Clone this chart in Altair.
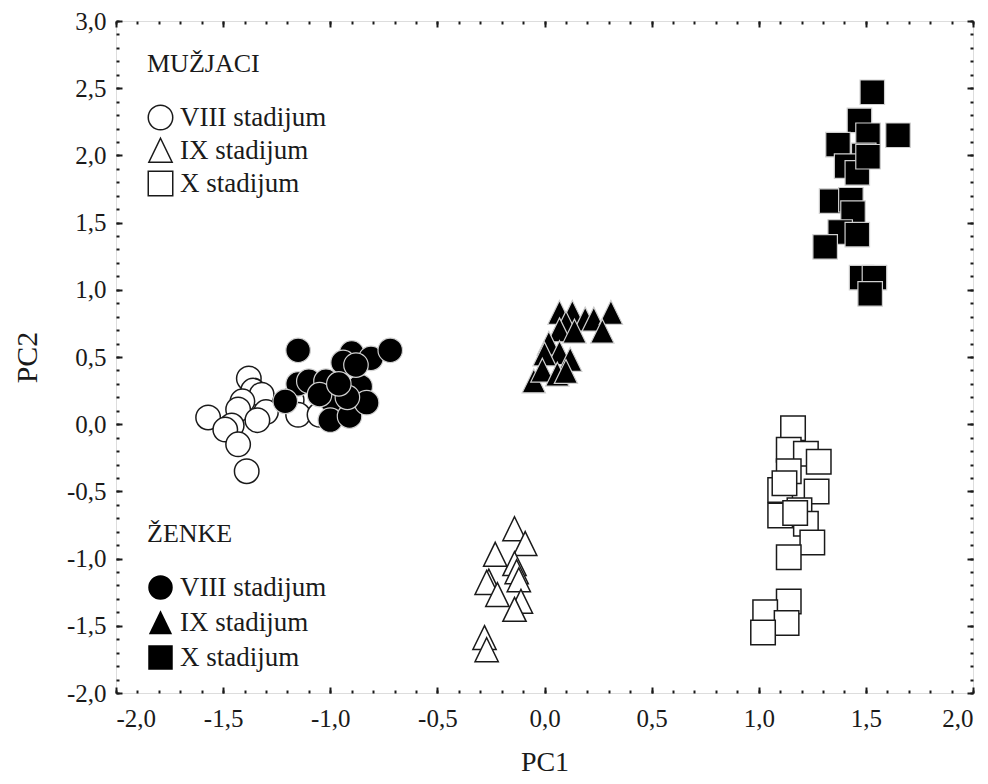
import altair as alt
import pandas as pd

# ---- data ----
stages = ["VIII stadijum", "IX stadijum", "X stadijum"]

m8_x = [-1.57, -1.38, -1.36, -1.32, -1.41, -1.43, -1.30, -1.46, -1.49, -1.43, -1.39, -1.34, -1.18, -1.15, -1.05]
m8_y = [0.05, 0.34, 0.25, 0.22, 0.17, 0.11, 0.09, -0.01, -0.04, -0.15, -0.35, 0.03, 0.18, 0.07, 0.07]

f8_x = [-1.15, -1.15, -1.10, -1.02, -0.99, -1.00, -0.91, -0.86, -0.83, -0.92, -0.90, -0.94, -0.81, -0.72, -1.21, -1.05, -0.96, -0.88]
f8_y = [0.55, 0.30, 0.32, 0.32, 0.17, 0.03, 0.06, 0.28, 0.16, 0.20, 0.53, 0.46, 0.49, 0.55, 0.17, 0.22, 0.30, 0.44]

m9_x = [-0.14, -0.09, -0.23, -0.26, -0.27, -0.14, -0.13, -0.12, -0.22, -0.11, -0.14, -0.28, -0.27]
m9_y = [-0.78, -0.89, -0.97, -1.17, -1.18, -1.04, -1.10, -1.16, -1.27, -1.32, -1.38, -1.59, -1.68]

f9_x = [0.07, 0.13, 0.19, 0.23, 0.31, 0.10, 0.07, 0.14, 0.27, 0.02, 0.07, 0.00, 0.12, -0.05, -0.01, 0.06, 0.10]
f9_y = [0.83, 0.83, 0.78, 0.78, 0.83, 0.75, 0.70, 0.69, 0.69, 0.60, 0.53, 0.52, 0.48, 0.32, 0.40, 0.37, 0.39]

m10_x = [1.16, 1.14, 1.22, 1.28, 1.14, 1.10, 1.27, 1.10, 1.19, 1.22, 1.17, 1.25, 1.14, 1.14, 1.03, 1.13, 1.02, 1.12]
m10_y = [-0.03, -0.19, -0.22, -0.28, -0.35, -0.49, -0.50, -0.68, -0.64, -0.74, -0.66, -0.88, -0.99, -1.32, -1.40, -1.48, -1.55, -0.44]

f10_x = [1.53, 1.47, 1.51, 1.65, 1.37, 1.49, 1.41, 1.46, 1.34, 1.43, 1.44, 1.38, 1.46, 1.31, 1.48, 1.54, 1.52, 1.51]
f10_y = [2.47, 2.26, 2.15, 2.15, 2.08, 2.00, 1.92, 1.87, 1.66, 1.67, 1.57, 1.43, 1.41, 1.32, 1.09, 1.09, 0.97, 1.99]

x_major = [-2.0, -1.5, -1.0, -0.5, 0.0, 0.5, 1.0, 1.5, 2.0]
y_major = [-2.0, -1.5, -1.0, -0.5, 0.0, 0.5, 1.0, 1.5, 2.0, 2.5, 3.0]
x_minor = [round(-2.0 + 0.1 * i, 1) for i in range(41)]
y_minor = [round(-2.0 + 0.1 * i, 1) for i in range(51)]

rows = []
for sex, stage, xs, ys in [
    ("M", stages[0], m8_x, m8_y), ("M", stages[1], m9_x, m9_y), ("M", stages[2], m10_x, m10_y),
    ("F", stages[0], f8_x, f8_y), ("F", stages[1], f9_x, f9_y), ("F", stages[2], f10_x, f10_y),
]:
    for a, b in zip(xs, ys):
        rows.append({"sex": sex, "stage": stage, "PC1": a, "PC2": b})
df = pd.DataFrame(rows)

FONT = "Liberation Serif"
INK = "#1a1a1a"
W, H = 857, 672
LBL = "replace((datum.value < 0 ? '-' : '') + format(abs(datum.value), '.1f'), '.', ',')"
TRI = "M0,-1L0.95,0.95L-0.95,0.95Z"

xs_ = alt.Scale(domain=[-2, 2], nice=False, zero=False)
ys_ = alt.Scale(domain=[-2, 3], nice=False, zero=False)
shape_scale = alt.Scale(domain=stages, range=["circle", TRI, "square"])

base = alt.Chart(df)

common_legend = dict(
    orient="none", legendX=31, padding=0,
    titleFont=FONT, titleFontSize=26, titleFontWeight="normal", titleColor=INK,
    titlePadding=27, labelFont=FONT, labelFontSize=27, labelColor=INK,
    symbolSize=600, labelOffset=6,
)

males = base.transform_filter(alt.datum.sex == "M").mark_point(
    filled=False, color=INK, fill="white", strokeWidth=1.5, opacity=1, size=600
).encode(
    x=alt.X("PC1:Q", scale=xs_, axis=alt.Axis(
        values=x_major, labelExpr=LBL, ticks=False, domain=False, grid=False,
        labelFont=FONT, labelFontSize=25, labelColor=INK, labelPadding=13,
        title="PC1", titleFont=FONT, titleFontSize=28, titleFontWeight="normal",
        titleColor=INK, titlePadding=17, orient="bottom")),
    y=alt.Y("PC2:Q", scale=ys_, axis=alt.Axis(
        values=y_major, labelExpr=LBL, ticks=False, domain=False, grid=False,
        labelFont=FONT, labelFontSize=25, labelColor=INK, labelPadding=10,
        title="PC2", titleFont=FONT, titleFontSize=30, titleFontWeight="normal",
        titleColor=INK, titlePadding=24, orient="left")),
    shape=alt.Shape("stage:N", scale=shape_scale,
                    legend=alt.Legend(title="MUŽJACI", legendY=30, rowPadding=2,
                                      **common_legend)),
)

females = base.transform_filter(alt.datum.sex == "F").mark_point(
    filled=True, strokeWidth=1.2, opacity=1, size=600
).encode(
    x=alt.X("PC1:Q", scale=xs_, axis=None),
    y=alt.Y("PC2:Q", scale=ys_, axis=None),
    shape=alt.Shape("stage:N", scale=shape_scale,
                    legend=alt.Legend(title="ŽENKE", legendY=500, rowPadding=4,
                                      symbolFillColor="black", symbolStrokeColor="black",
                                      **common_legend)),
    fill=alt.value("black"),
    stroke=alt.value("#d0d0d0"),
)

def tick_layer(xorient, yorient, vals_x, vals_y, size):
    ax = alt.Axis(orient=xorient, offset=-H, values=vals_x, labels=False, domain=False,
                  grid=False, title=None, tickSize=size, tickWidth=2, tickColor=INK)
    ay = alt.Axis(orient=yorient, offset=-W, values=vals_y, labels=False, domain=False,
                  grid=False, title=None, tickSize=size, tickWidth=2, tickColor=INK)
    return base.mark_point(opacity=0, size=0).encode(
        x=alt.X("PC1:Q", scale=xs_, axis=ax),
        y=alt.Y("PC2:Q", scale=ys_, axis=ay),
    )

ticks = [
    tick_layer("top", "right", x_minor, y_minor, 3),
    tick_layer("bottom", "left", x_minor, y_minor, 3),
    tick_layer("top", "right", x_major, y_major, 6),
    tick_layer("bottom", "left", x_major, y_major, 6),
]

chart = alt.layer(males, females, *ticks).resolve_scale(
    shape="independent"
).resolve_legend(shape="independent").resolve_axis(
    x="independent", y="independent"
).properties(
    width=W, height=H, autosize="none",
    padding={"left": 108, "top": 13, "right": 7, "bottom": 83},
).configure_view(
    stroke=INK, strokeWidth=2
).configure(background="white")

chart.save("out.html", embed_options={"renderer": "svg", "actions": False})
